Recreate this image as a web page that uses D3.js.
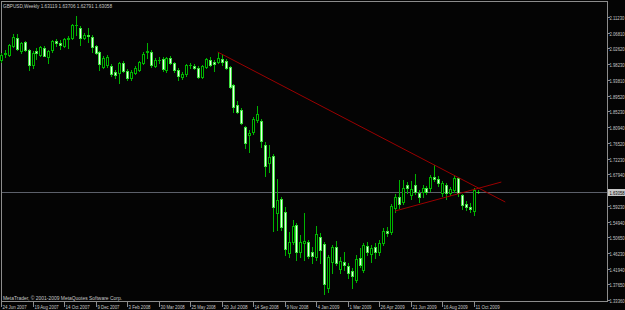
<!DOCTYPE html>
<html>
<head>
<meta charset="utf-8">
<script src="https://cdnjs.cloudflare.com/ajax/libs/d3/7.8.5/d3.min.js"></script>
<style>
	html, body { margin: 0; padding: 0; background: #000; }
	svg { display: block; }
	text { font-family: "Liberation Sans", Arial, sans-serif; fill: #c8c8c8; }
</style>
</head>
<body>
<svg id="chart" width="625" height="310"></svg>
<script>
// GBPUSD weekly, one entry per bar (24 Jun 2007 .. 18 Oct 2009)
const opens = [
	1.9940, 2.0105, 2.0077, 2.0325, 2.0545, 2.0188, 2.0435, 2.0215, 1.9802, 2.0188,
	2.0077, 2.0270, 2.0022, 2.0215, 2.0463, 2.0408, 2.0325, 2.0518, 2.0545, 2.0903,
	2.0820, 2.0545, 2.0628, 2.0573, 2.0325, 2.0160, 1.9747, 1.9802, 1.9775, 1.9610,
	1.9582, 1.9857, 1.9637, 1.9444, 1.9582, 1.9665, 1.9857, 2.0160, 2.0160, 1.9775,
	1.9940, 1.9967, 1.9665, 1.9995, 1.9857, 1.9665, 1.9472, 1.9555, 1.9802, 1.9775,
	1.9720, 1.9472, 1.9747, 1.9940, 1.9885, 1.9885, 1.9967, 1.9912, 1.9747, 1.9252,
	1.8701, 1.8564, 1.8096, 1.7876, 1.7958, 1.8289, 1.8261, 1.7601, 1.7105, 1.7298,
	1.5729, 1.6115, 1.5757, 1.4628, 1.4931, 1.5399, 1.4656, 1.4904, 1.4931, 1.4656,
	1.4518, 1.5069, 1.4876, 1.3665, 1.4381, 1.4794, 1.4188, 1.4381, 1.4271, 1.4133,
	1.3885, 1.4491, 1.4161, 1.4821, 1.4601, 1.4794, 1.4656, 1.4904, 1.5234, 1.5206,
	1.5867, 1.6170, 1.6032, 1.6500, 1.6225, 1.6500, 1.6280, 1.6307, 1.6417, 1.6417,
	1.6720, 1.6665, 1.6280, 1.6500, 1.6280, 1.6362, 1.6692, 1.6225, 1.5977, 1.5894,
	1.5784, 1.63119
];
const highs = [
	2.0132, 2.0215, 2.0380, 2.0655, 2.0655, 2.0435, 2.0463, 2.0243, 2.0188, 2.0270,
	2.0325, 2.0325, 2.0215, 2.0490, 2.0518, 2.0490, 2.0545, 2.0600, 2.0931, 2.1151,
	2.0876, 2.0683, 2.0820, 2.0628, 2.0353, 2.0188, 2.0050, 2.0077, 1.9830, 1.9665,
	1.9885, 1.9912, 1.9692, 1.9665, 1.9775, 1.9912, 2.0160, 2.0408, 2.0215, 1.9995,
	2.0022, 2.0022, 2.0022, 2.0050, 1.9885, 1.9720, 1.9610, 1.9830, 1.9857, 1.9830,
	1.9775, 1.9802, 1.9995, 2.0022, 1.9940, 2.0160, 2.0077, 1.9967, 1.9775, 1.9279,
	1.8812, 1.8619, 1.8124, 1.8013, 1.8371, 1.8674, 1.8316, 1.7683, 1.7601, 1.7353,
	1.6665, 1.6170, 1.5894, 1.5206, 1.5537, 1.5454, 1.5124, 1.5729, 1.4986, 1.4794,
	1.5372, 1.5179, 1.4931, 1.4573, 1.4849, 1.4959, 1.4518, 1.4656, 1.4353, 1.4216,
	1.4573, 1.4766, 1.4904, 1.4931, 1.4849, 1.4904, 1.4986, 1.5316, 1.5344, 1.5977,
	1.6252, 1.6637, 1.6637, 1.6582, 1.6610, 1.6802, 1.6362, 1.6500, 1.6472, 1.6775,
	1.7050, 1.6747, 1.6610, 1.6555, 1.6445, 1.6747, 1.6720, 1.6252, 1.6060, 1.6004,
	1.6417, 1.63706
];
const lows = [
	1.9885, 2.0022, 2.0050, 2.0298, 2.0215, 2.0132, 2.0188, 1.9665, 1.9720, 1.9967,
	2.0050, 2.0050, 1.9857, 2.0160, 2.0325, 2.0243, 2.0298, 2.0270, 2.0518, 2.0628,
	2.0353, 2.0518, 2.0435, 2.0160, 2.0105, 1.9665, 1.9720, 1.9747, 1.9500, 1.9444,
	1.9307, 1.9610, 1.9389, 1.9389, 1.9555, 1.9637, 1.9830, 1.9995, 1.9747, 1.9747,
	1.9857, 1.9637, 1.9610, 1.9830, 1.9610, 1.9389, 1.9417, 1.9500, 1.9720, 1.9692,
	1.9444, 1.9444, 1.9720, 1.9775, 1.9637, 1.9857, 1.9802, 1.9692, 1.9169, 1.8509,
	1.8481, 1.8179, 1.7518, 1.7408, 1.7903, 1.8234, 1.7546, 1.6747, 1.6858, 1.5234,
	1.5261, 1.5261, 1.4573, 1.4518, 1.4876, 1.4436, 1.4518, 1.4436, 1.4491, 1.4353,
	1.4436, 1.4353, 1.3500, 1.3555, 1.4078, 1.4298, 1.4078, 1.4161, 1.3940, 1.3665,
	1.3830, 1.4243, 1.4106, 1.4573, 1.4381, 1.4491, 1.4573, 1.4849, 1.5096, 1.5151,
	1.5757, 1.5867, 1.5977, 1.6280, 1.6115, 1.6252, 1.6032, 1.6170, 1.6252, 1.6335,
	1.6610, 1.6472, 1.6197, 1.6115, 1.6225, 1.6307, 1.6197, 1.5839, 1.5812, 1.5757,
	1.5674, 1.62791
];
const closes = [
	2.0077, 2.0132, 2.0353, 2.0573, 2.0243, 2.0408, 2.0215, 1.9802, 2.0132, 2.0132,
	2.0298, 2.0050, 2.0188, 2.0463, 2.0408, 2.0353, 2.0518, 2.0545, 2.0903, 2.0910,
	2.0545, 2.0628, 2.0600, 2.0298, 2.0132, 1.9830, 1.9995, 2.0022, 1.9555, 1.9527,
	1.9857, 1.9637, 1.9444, 1.9610, 1.9720, 1.9885, 2.0105, 2.0188, 1.9802, 1.9940,
	1.9945, 1.9692, 1.9995, 1.9857, 1.9665, 1.9500, 1.9555, 1.9802, 1.9808, 1.9720,
	1.9472, 1.9775, 1.9967, 1.9802, 1.9830, 1.9995, 1.9885, 1.9720, 1.9197, 1.8646,
	1.8509, 1.8206, 1.7656, 1.7931, 1.8316, 1.8454, 1.7711, 1.7023, 1.7270, 1.5894,
	1.6087, 1.5344, 1.4739, 1.4931, 1.5372, 1.4656, 1.4931, 1.4959, 1.4546, 1.4546,
	1.5151, 1.4711, 1.3775, 1.4518, 1.4794, 1.4353, 1.4408, 1.4298, 1.4078, 1.3996,
	1.4463, 1.4298, 1.4849, 1.4656, 1.4766, 1.4656, 1.4904, 1.5234, 1.5179, 1.5922,
	1.6170, 1.5977, 1.6417, 1.6417, 1.6390, 1.6307, 1.6170, 1.6417, 1.6307, 1.6720,
	1.6665, 1.6555, 1.6555, 1.6280, 1.6390, 1.6692, 1.6280, 1.5949, 1.5894, 1.5853,
	1.6362, 1.63058
];

// time axis labels, one every 8 bars
const dateLabels = ['24 Jun 2007', '19 Aug 2007', '14 Oct 2007', '9 Dec 2007', '3 Feb 2008',
	'30 Mar 2008', '25 May 2008', '20 Jul 2008', '14 Sep 2008', '9 Nov 2008', '4 Jan 2009',
	'1 Mar 2009', '26 Apr 2009', '21 Jun 2009', '16 Aug 2009', '11 Oct 2009'];
const dateStep = 8;

const priceTicks = [2.11230, 2.06810, 2.02620, 1.98230, 1.93810, 1.89520, 1.85230, 1.80940,
	1.76520, 1.72230, 1.67940, 1.59230, 1.54940, 1.50650, 1.46230, 1.41940, 1.37650, 1.33360];

const title = 'GBPUSD,Weekly  1.63119 1.63706 1.62791 1.63058';
const copyright = 'MetaTrader, \u00a9 2001-2009 MetaQuotes Software Corp.';

// hand drawn trend lines (bar index, price)
const trendDown = [[55, 2.0160], [128, 1.6032]];
const trendUp = [[100, 1.5784], [127, 1.6582]];

const W = 625, H = 310;
const plot = { left: 1, top: 1, right: 607, bottom: 301 };

const svg = d3.select('#chart');
svg.append('rect').attr('width', W).attr('height', H).attr('fill', '#040404');

const x = d3.scaleLinear().domain([0, 121]).range([1, 477.7]);
const y = d3.scaleLinear().domain([1.3336, 2.1123]).range([300, 17]);

const last = closes[closes.length - 1];

/* -------------------- frame ---------------------- */
svg.append('rect')
	.attr('x', plot.left + 0.5).attr('y', plot.top + 0.5)
	.attr('width', plot.right - plot.left).attr('height', plot.bottom - plot.top)
	.attr('fill', 'none').attr('stroke', '#8c8c8c').attr('stroke-width', 1)
	.attr('shape-rendering', 'crispEdges');

// bid line
svg.append('line')
	.attr('x1', plot.left + 1).attr('x2', plot.right)
	.attr('y1', Math.round(y(last)) + 0.5).attr('y2', Math.round(y(last)) + 0.5)
	.attr('stroke', '#5c606a').attr('shape-rendering', 'crispEdges');

/* -------------------- candles ---------------------- */
const bars = d3.range(opens.length).map(i => ({
	i, o: opens[i], h: highs[i], l: lows[i], c: closes[i]
}));

const candle = svg.append('g').attr('shape-rendering', 'crispEdges')
	.selectAll('g').data(bars).join('g');

candle.append('line')
	.attr('x1', d => Math.round(x(d.i)) + 0.5).attr('x2', d => Math.round(x(d.i)) + 0.5)
	.attr('y1', d => Math.round(y(d.h))).attr('y2', d => Math.round(y(d.l)) + 1)
	.attr('stroke', '#00b400');

candle.append('rect')
	.attr('x', d => Math.round(x(d.i)) - 0.5)
	.attr('y', d => Math.round(y(Math.max(d.o, d.c))) + 0.5)
	.attr('width', 2)
	.attr('height', d => Math.max(0.01, Math.round(y(Math.min(d.o, d.c))) - Math.round(y(Math.max(d.o, d.c)))))
	.attr('fill', d => d.c >= d.o ? '#000' : '#eaffea')
	.attr('stroke', d => d.c >= d.o ? '#00b400' : '#3ce03c');

/* -------------------- trend lines ---------------------- */
[trendDown, trendUp].forEach(t => {
	svg.append('line')
		.attr('x1', x(t[0][0])).attr('y1', y(t[0][1]))
		.attr('x2', x(t[1][0])).attr('y2', y(t[1][1]))
		.attr('stroke', '#9a0000').attr('stroke-width', 1);
});

/* -------------------- price axis ---------------------- */
// small font stretched vertically so the labels fit the narrow margin
function priceLabel(node, py, str) {
	return node.append('text')
		.attr('transform', `translate(${plot.right + 2.5},${py + 2.2}) scale(1,1.4)`)
		.attr('font-size', 4.2)
		.text(str);
}

const pAxis = svg.append('g');
priceTicks.forEach(p => {
	const py = Math.round(y(p)) + 0.5;
	pAxis.append('line').attr('x1', plot.right).attr('x2', plot.right + 3)
		.attr('y1', py).attr('y2', py).attr('stroke', '#8c8c8c');
	priceLabel(pAxis, py, p.toFixed(5));
});

const ly = Math.round(y(last)) + 0.5;
pAxis.append('rect').attr('x', plot.right + 1).attr('y', ly - 3.5)
	.attr('width', 17).attr('height', 7).attr('fill', '#c8c8c8');
priceLabel(pAxis, ly, last.toFixed(5)).style('fill', '#000');

/* -------------------- time axis ---------------------- */
const tAxis = svg.append('g');
dateLabels.forEach((lbl, k) => {
	const tx = Math.round(x(k * dateStep)) + 0.5;
	tAxis.append('line').attr('x1', tx).attr('x2', tx)
		.attr('y1', plot.bottom).attr('y2', plot.bottom + 6).attr('stroke', '#8c8c8c');
	tAxis.append('text').attr('x', tx + 1).attr('y', 308.5)
		.attr('font-size', 6).attr('textLength', lbl.length * 2.2)
		.attr('lengthAdjust', 'spacingAndGlyphs').text(lbl);
});

/* -------------------- labels ---------------------- */
svg.append('text').attr('x', 3).attr('y', 7.5).attr('font-size', 6)
	.attr('textLength', 109).attr('lengthAdjust', 'spacingAndGlyphs').text(title);
svg.append('text').attr('x', 3).attr('y', 299.5).attr('font-size', 6)
	.attr('textLength', 119).attr('lengthAdjust', 'spacingAndGlyphs').text(copyright);
</script>
</body>
</html>
